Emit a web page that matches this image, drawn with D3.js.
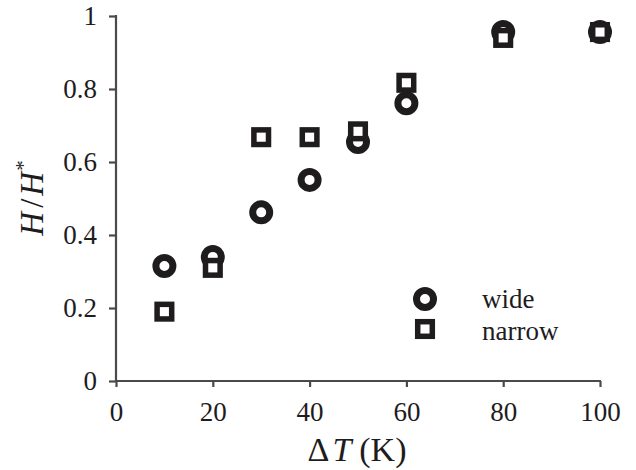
<!DOCTYPE html>
<html><head><meta charset="utf-8">
<script src="https://cdn.jsdelivr.net/npm/d3@7"></script>
<style>body{margin:0;background:#fff}svg{display:block}
text{font-family:"Liberation Serif","Times New Roman",Times,serif}</style>
</head><body>
<svg id="c" width="636" height="470"></svg>
<script>
const xValues = [10, 20, 30, 40, 50, 60, 80, 100];
const wide = [0.315, 0.34, 0.462, 0.551, 0.655, 0.761, 0.956, 0.956];
const narrow = [0.19, 0.31, 0.668, 0.668, 0.684, 0.817, 0.94, 0.956];
const xTicks = [0, 20, 40, 60, 80, 100];
const yTicks = [0, 0.2, 0.4, 0.6, 0.8, 1];
const yTickLabels = ["0", "0.2", "0.4", "0.6", "0.8", "1"];
const legendLabels = ["wide", "narrow"];

const svg = d3.select("#c");
const x = d3.scaleLinear().domain([0, 100]).range([116, 600]);
const y = d3.scaleLinear().domain([0, 1]).range([381, 16]);
const ink = "#1e1c1d", axisCol = "#4a4a4a";
const font = "Liberation Serif";

const xa = svg.append("g").attr("transform", "translate(0,381)")
  .call(d3.axisBottom(x).tickValues(xTicks).tickSize(6).tickPadding(15).tickSizeOuter(0));
const ya = svg.append("g").attr("transform", "translate(116,0)")
  .call(d3.axisLeft(y).tickValues(yTicks).tickFormat((d,i)=>yTickLabels[i]).tickSize(7).tickPadding(12).tickSizeOuter(0));
[xa, ya].forEach(g => {
  g.attr("font-family", font).attr("font-size", 27);
  g.selectAll("path.domain").attr("stroke", axisCol).attr("stroke-width", 2.2);
  g.selectAll(".tick line").attr("stroke", axisCol).attr("stroke-width", 2.2);
  g.selectAll("text").attr("fill", ink);
});
xa.select("path.domain").attr("d", `M${x(0)-1},0H${x(100)+1}`);
ya.select("path.domain").attr("d", `M0,${y(0)+1}V${y(1)-1}`);

const xt = svg.append("text").attr("x", 357).attr("y", 461).attr("text-anchor", "middle")
  .attr("fill", ink).attr("font-family", font).attr("font-size", 34);
xt.append("tspan").text("Δ");
xt.append("tspan").attr("dx", 3).attr("font-style", "italic").text("T");
xt.append("tspan").attr("dx", 8).text("(K)");

const yt = svg.append("text").attr("transform", "translate(43,198) rotate(-90)").attr("text-anchor", "middle")
  .attr("fill", ink).attr("font-family", font).attr("font-size", 33);
yt.append("tspan").attr("font-style", "italic").text("H");
yt.append("tspan").attr("dx", 4).text("/");
yt.append("tspan").attr("dx", 3).attr("font-style", "italic").text("H");
yt.append("tspan").attr("dx", 1).attr("dy", -13).attr("font-size", 21).text("*");

function circle(g, cx, cy) {
  g.append("circle").attr("cx", cx).attr("cy", cy).attr("r", 8.5)
    .attr("fill", "#fff").attr("stroke", ink).attr("stroke-width", 7);
}
function square(g, cx, cy) {
  g.append("rect").attr("x", cx - 7.3).attr("y", cy - 7.3).attr("width", 14.6).attr("height", 14.6)
    .attr("fill", "#fff").attr("stroke", ink).attr("stroke-width", 5.5);
}
const gc = svg.append("g");
xValues.forEach((v, i) => circle(gc, x(v), y(wide[i])));
const gs = svg.append("g");
xValues.forEach((v, i) => square(gs, x(v), y(narrow[i])));

const lg = svg.append("g");
circle(lg, 425, 299);
square(lg, 425, 329);
lg.selectAll("text").data(legendLabels).join("text")
  .attr("x", 482).attr("y", (d, i) => 308 + i * 32)
  .attr("fill", ink).attr("font-family", font).attr("font-size", 27).text(d => d);
</script>
</body></html>
